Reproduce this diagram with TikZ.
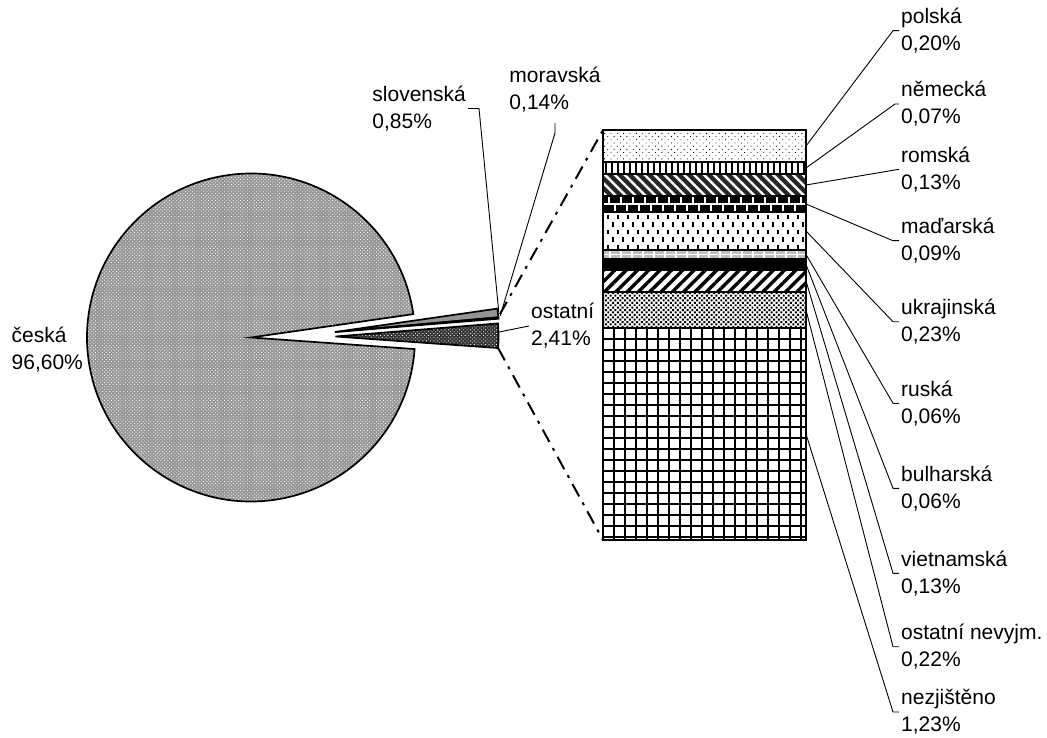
\documentclass[tikz,border=0pt]{standalone}
\usepackage{fontspec}
\setmainfont{Liberation Sans}
\usetikzlibrary{patterns,patterns.meta,calc}
\begin{document}
\begin{tikzpicture}[x=1pt,y=-1pt,
  lbl/.style={font=\fontsize{21}{27}\selectfont, align=left, inner sep=2pt},
  lead/.style={line width=0.9pt, draw=black},
  series/.style={line width=2pt, draw=black, dash pattern=on 14pt off 7pt on 3pt off 7pt},
  slicebord/.style={draw=black, line width=1.7pt, line join=miter},
  seg/.style={rectangle, minimum width=203pt, inner sep=0pt, outer sep=0pt, anchor=north west},
  segbord/.style={draw=black, line width=2pt},
  thin white/.style={draw=white, line width=1.3pt},
]
\useasboundingbox (0,0) rectangle (1047,738);

% ---------- pie ----------
\coordinate (C) at (251,337.5);
\coordinate (A1) at (335.5,336.5);
\coordinate (A2) at (335,332);

\path[slicebord, preaction={fill=black!42}, pattern={Dots[radius=0.65pt,distance=2.5pt,angle=45]}, pattern color=white]
  (C) -- ($(C)+(-8.2:164)$) arc[start angle=-8.2, end angle=-355.96, radius=164] -- cycle;
\path[slicebord, fill=black!42]
  (A2) -- ($(A2)+(-8.2:164)$) arc[start angle=-8.2, end angle=-5.14, radius=164] -- cycle;
\path[slicebord, fill=white]
  (A2) -- ($(A2)+(-5.14:164)$) arc[start angle=-5.14, end angle=-4.64, radius=164] -- cycle;
\path[slicebord, preaction={fill=black!80}, pattern={Dots[radius=0.6pt,distance=2.6pt,angle=45]}, pattern color=white]
  (A1) -- ($(A1)+(-4.6:163)$) arc[start angle=-4.6, end angle=4.06, radius=163] -- cycle;

\coordinate (slovEnd) at ($(A2)+(-7:165)$);
\coordinate (morEnd) at ($(A2)+(-5.6:166)$);
\coordinate (ostEnd) at ($(A1)+(-1.6:164)$);
\coordinate (ostTop) at ($(A2)+(-6.2:166)$);
\coordinate (ostBot) at ($(A1)+(4.06:163)$);

% ---------- bar segments ----------
\node[seg, minimum height=32pt]  (s1)  at (603,130) {};
\node[seg, minimum height=12pt]  (s2)  at (603,162) {};
\node[seg, minimum height=22pt]  (s3)  at (603,174) {};
\node[seg, minimum height=16pt]  (s4)  at (603,196) {};
\node[seg, minimum height=38pt]  (s5)  at (603,212) {};
\node[seg, minimum height=9pt]   (s6)  at (603,250) {};
\node[seg, minimum height=11pt]  (s7)  at (603,259) {};
\node[seg, minimum height=22pt]  (s8)  at (603,270) {};
\node[seg, minimum height=36pt]  (s9)  at (603,292) {};
\node[seg, minimum height=212pt] (s10) at (603,328) {};

% polská: sparse dots
\fill[white] (s1.north west) rectangle (s1.south east);
\fill[pattern={Dots[radius=0.6pt,distance=4.5pt,angle=45]}] (s1.north west) rectangle (s1.south east);
% německá: vertical stripes
\fill[white] (s2.north west) rectangle (s2.south east);
\fill[pattern={Lines[angle=90,distance=6pt,line width=2.6pt]}] (s2.north west) rectangle (s2.south east);
% romská: dark with white diagonals
\fill[black!85] (s3.north west) rectangle (s3.south east);
\fill[pattern={Lines[angle=-45,distance=7pt,line width=2.4pt]}, pattern color=white] (s3.north west) rectangle (s3.south east);
% maďarská: bricks
\fill[black] (s4.north west) rectangle (s4.south east);
\begin{scope}
  \clip (s4.north west) rectangle (s4.south east);
  \draw[thin white] (603,204) -- (806,204);
  \foreach \x in {609,621,...,801} \draw[thin white] (\x,196) -- (\x,204);
  \foreach \x in {603,615,...,806} \draw[thin white] (\x,204) -- (\x,212);
\end{scope}
% ukrajinská: vertical dashes
\fill[white] (s5.north west) rectangle (s5.south east);
\begin{scope}
  \clip (s5.north west) rectangle (s5.south east);
  \foreach \y in {215,230,245} \foreach \x in {608,618,...,806} \draw[line width=1.6pt] (\x,\y) -- (\x,\y+4.5);
  \foreach \y in {222.5,237.5} \foreach \x in {613,623,...,806} \draw[line width=1.6pt] (\x,\y) -- (\x,\y+4.5);
\end{scope}
% ruská: light grey with white ticks
\fill[gray!50] (s6.north west) rectangle (s6.south east);
\begin{scope}
  \clip (s6.north west) rectangle (s6.south east);
  \foreach \x in {610,621,...,806} \draw[thin white] (\x,250) -- (\x,259);
  \draw[draw=white, line width=0.8pt] (603,254.5) -- (806,254.5);
\end{scope}
% bulharská: black
\fill[black] (s7.north west) rectangle (s7.south east);
% vietnamská: thick diagonals
\fill[white] (s8.north west) rectangle (s8.south east);
\fill[pattern={Lines[angle=45,distance=8pt,line width=3.4pt]}] (s8.north west) rectangle (s8.south east);
% ostatní nevyjm.: dense dots
\fill[white] (s9.north west) rectangle (s9.south east);
\fill[pattern={Dots[radius=1.4pt,distance=3.4pt,angle=45]}] (s9.north west) rectangle (s9.south east);
% nezjištěno: grid
\fill[white] (s10.north west) rectangle (s10.south east);
\begin{scope}
  \clip (s10.north west) rectangle (s10.south east);
  \foreach \x in {614,625,...,806} \draw[line width=1.4pt] (\x,328) -- (\x,540);
  \foreach \y in {339,350,...,540} \draw[line width=1.4pt] (603,\y) -- (806,\y);
\end{scope}

\foreach \s in {s1,s2,s3,s4,s5,s6,s7,s8,s9,s10}
  \draw[segbord] (\s.north west) rectangle (\s.south east);

% ---------- series lines ----------
\draw[series] (ostTop) -- (s1.north west);
\draw[series] (ostBot) -- (s10.south west);

% ---------- labels ----------
\node[lbl, anchor=west] (cesL) at (9.5,350) {česká\\96,60\%};
\node[lbl, anchor=east] (slovL) at (468,108.5) {slovenská\\0,85\%};
\node[lbl, anchor=south, outer sep=9pt] (morL) at (555,123) {moravská\\0,14\%};
\node[lbl, anchor=west] (ostL) at (529,326) {ostatní\\2,41\%};

\node[lbl, anchor=west] (polL) at (899,30.7)  {polská\\0,20\%};
\node[lbl, anchor=west] (nemL) at (899,104)   {německá\\0,07\%};
\node[lbl, anchor=west] (romL) at (899,169.3) {romská\\0,13\%};
\node[lbl, anchor=west] (madL) at (899,240.7) {maďarská\\0,09\%};
\node[lbl, anchor=west] (ukrL) at (899,321.7) {ukrajinská\\0,23\%};
\node[lbl, anchor=west] (rusL) at (899,403.3) {ruská\\0,06\%};
\node[lbl, anchor=west] (bulL) at (899,488.3) {bulharská\\0,06\%};
\node[lbl, anchor=west] (vieL) at (899,573.3) {vietnamská\\0,13\%};
\node[lbl, anchor=west] (ostnL) at (899,646.7) {ostatní nevyjm.\\0,22\%};
\node[lbl, anchor=west] (nezL) at (899,712) {nezjištěno\\1,23\%};

% ---------- leader lines ----------
\draw[lead] (slovL.east) -- ++(11,0) -- (slovEnd);
\draw[lead] (morL.south) -- ++(0,10) -- (morEnd);
\draw[lead] (ostEnd) -- (ostL.west);

\draw[lead] (s1.east) -- ([xshift=-6pt]polL.west) -- (polL.west);
\draw[lead] (s2.east) -- ([xshift=-4pt]nemL.west) -- (nemL.west);
\draw[lead] (s3.east) -- (romL.west);
\draw[lead] (s4.east) -- ([xshift=-6pt]madL.west) -- (madL.west);
\draw[lead] (s5.east) -- ([xshift=-6pt]ukrL.west) -- (ukrL.west);
\draw[lead] (s6.east) -- ([xshift=-6pt]rusL.west) -- (rusL.west);
\draw[lead] (s7.east) -- ([xshift=-6pt]bulL.west) -- (bulL.west);
\draw[lead] (s8.east) -- ([xshift=-6pt]vieL.west) -- (vieL.west);
\draw[lead] (s9.east) -- ([xshift=-6pt]ostnL.west) -- (ostnL.west);
\draw[lead] (s10.east) -- ([xshift=-6pt]nezL.west) -- (nezL.west);
\end{tikzpicture}
\end{document}
